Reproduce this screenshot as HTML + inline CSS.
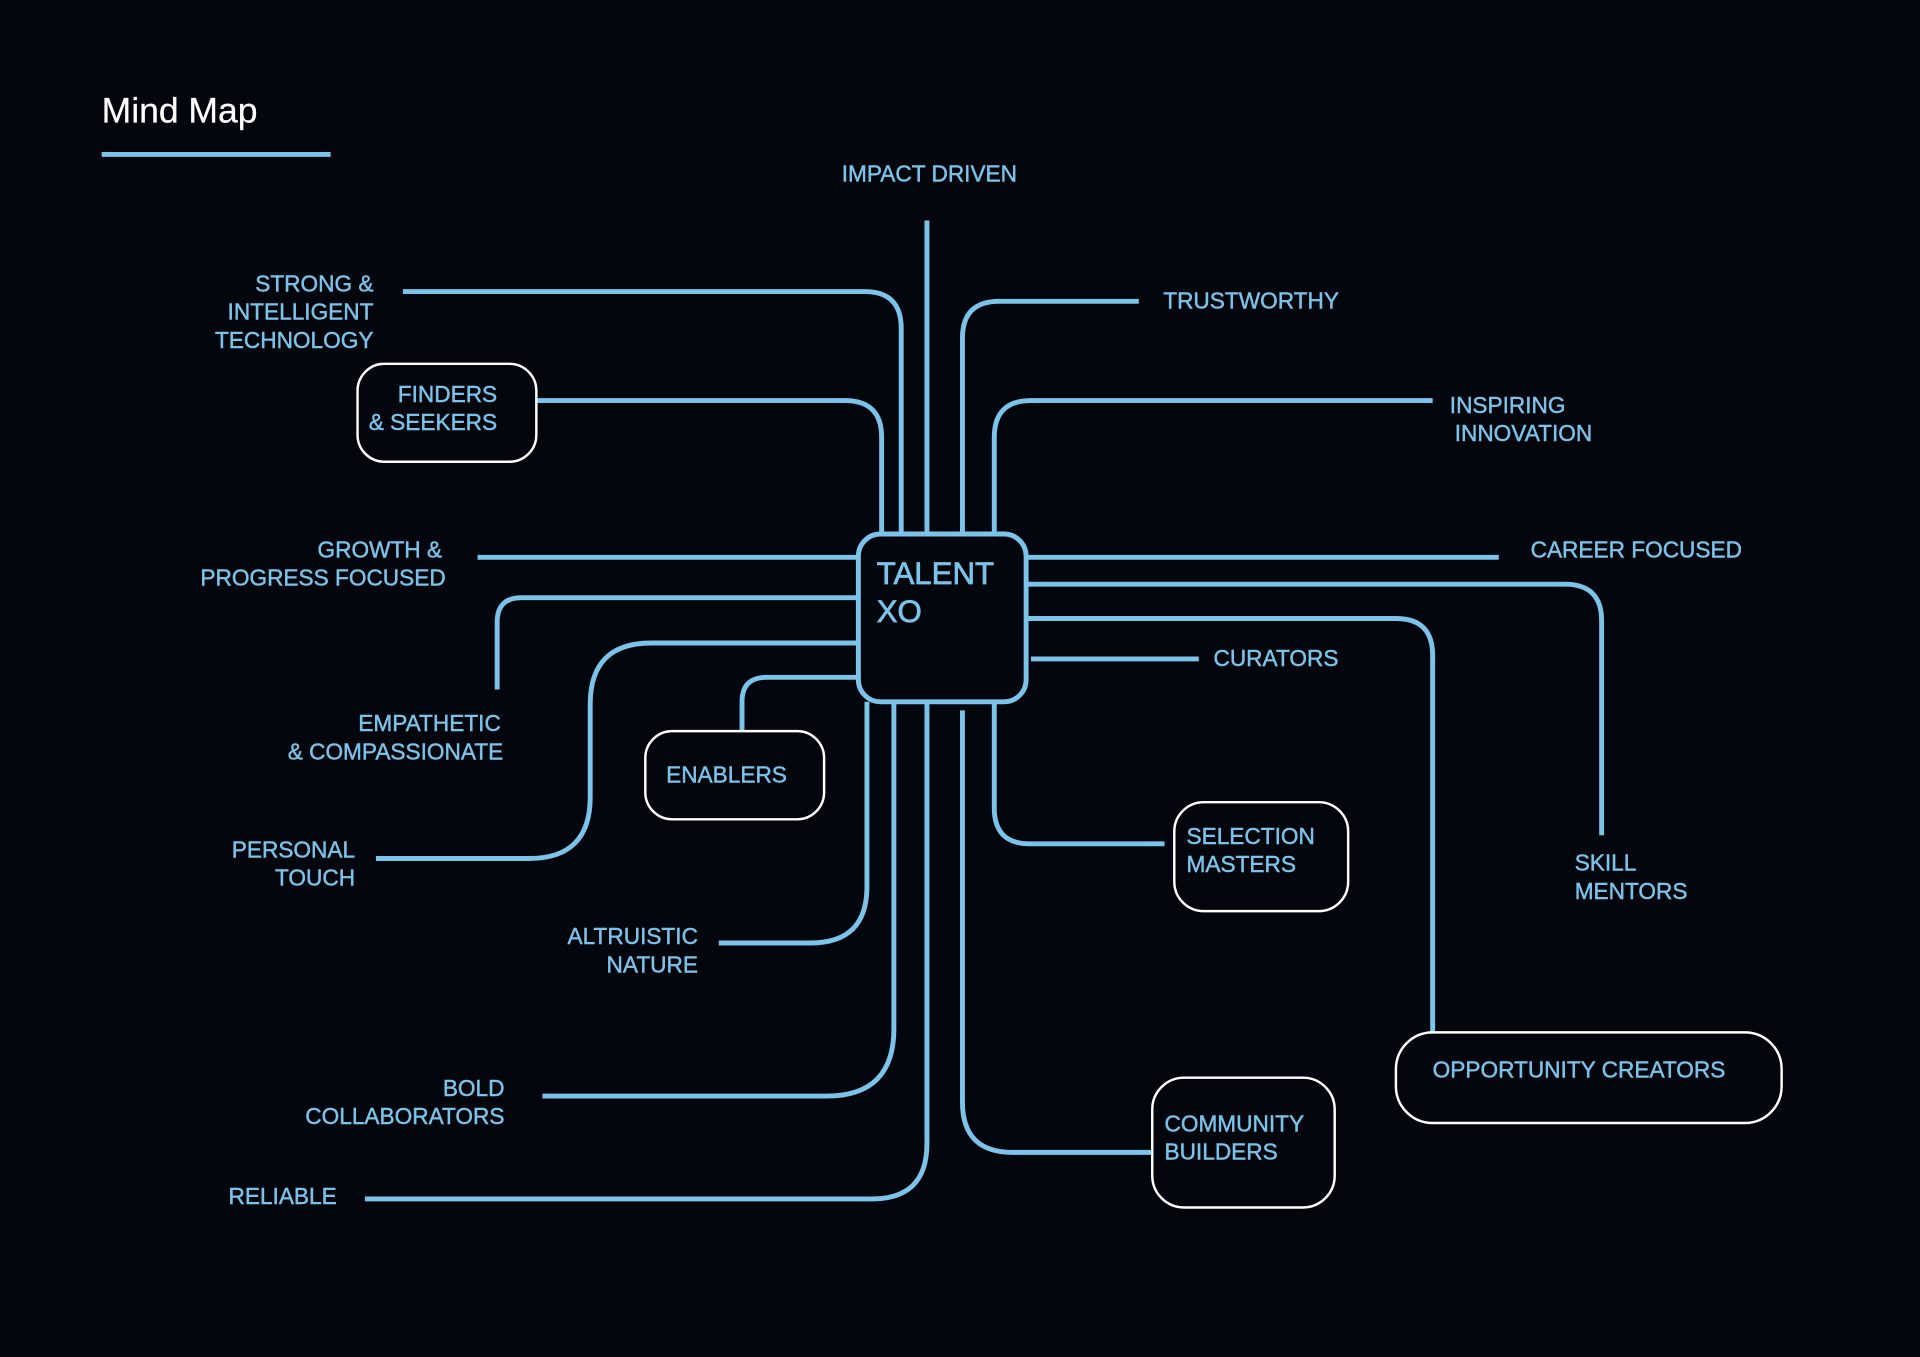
<!DOCTYPE html>
<html><head><meta charset="utf-8"><style>
html,body{margin:0;padding:0;background:#03070d;}
svg{display:block}
text{font-family:"Liberation Sans",sans-serif;fill:#7cc3ea;font-size:18.5px;stroke:#7cc3ea;stroke-width:0.35px;}
.r{text-anchor:end}
</style></head><body>
<svg width="1920" height="1357" viewBox="0 0 1568 1108" xmlns="http://www.w3.org/2000/svg">
<rect width="1568" height="1108" fill="#03070d"/>
<text x="83" y="100" style="fill:#fff;stroke:#fff;stroke-width:0.2px;font-size:29px">Mind Map</text>
<line x1="83" y1="126" x2="270" y2="126" stroke="#7cc3ea" stroke-width="4"/>
<g fill="none" stroke="#7cc3ea" stroke-width="4">
<path d="M757 180 V436"/>
<path d="M329 238 H706 Q736 238 736 268 V436"/>
<path d="M438 327 H690 Q720 327 720 357 V436"/>
<path d="M930 246 H816 Q786 246 786 276 V436"/>
<path d="M1170 327 H842 Q812 327 812 357 V436"/>
<path d="M390 455 H701"/>
<path d="M406 563 V508 Q406 488 426 488 H701"/>
<path d="M307 701 H432 Q482 701 482 651 V575 Q482 525 532 525 H701"/>
<path d="M606 597 V573 Q606 553 626 553 H701"/>
<path d="M587 770 H662 Q708 770 708 724 V573"/>
<path d="M443 895 H675 Q730 895 730 840 V573"/>
<path d="M298 979 H712 Q757 979 757 934 V573"/>
<path d="M786 580 V900 Q786 941 827 941 H941"/>
<path d="M812 573 V660 Q812 689 841 689 H951"/>
<path d="M838 455 H1224"/>
<path d="M838 477 H1278 Q1308 477 1308 507 V682"/>
<path d="M838 505 H1140 Q1170 505 1170 535 V843"/>
<path d="M842 538 H979"/>
<rect x="701" y="436" width="137" height="137" rx="18" fill="#03070d"/>
</g>
<g fill="#03070d" stroke="#fff" stroke-width="2">
<rect x="292" y="297" width="146" height="80" rx="22"/>
<rect x="527" y="597" width="146" height="72" rx="22"/>
<rect x="959" y="655" width="142" height="89" rx="24"/>
<rect x="941" y="880" width="149" height="106" rx="26"/>
<rect x="1140" y="843" width="315" height="74" rx="30"/>
</g>
<text x="716" y="477" style="font-size:25.5px;stroke-width:0.6px">TALENT</text>
<text x="716" y="508" style="font-size:25.5px;stroke-width:0.6px">XO</text>
<text x="759" y="148" text-anchor="middle">IMPACT DRIVEN</text>
<text class="r" x="305" y="238">STRONG &amp;</text>
<text class="r" x="305" y="261">INTELLIGENT</text>
<text class="r" x="305" y="284">TECHNOLOGY</text>
<text class="r" x="406" y="328">FINDERS</text>
<text class="r" x="406" y="351">&amp; SEEKERS</text>
<text x="950" y="252">TRUSTWORTHY</text>
<text x="1184" y="337">INSPIRING</text>
<text x="1188" y="360">INNOVATION</text>
<text class="r" x="361" y="455">GROWTH &amp;</text>
<text class="r" x="364" y="478">PROGRESS FOCUSED</text>
<text x="1250" y="455">CAREER FOCUSED</text>
<text x="991" y="544">CURATORS</text>
<text class="r" x="409" y="597">EMPATHETIC</text>
<text class="r" x="411" y="620">&amp; COMPASSIONATE</text>
<text x="544" y="639">ENABLERS</text>
<text class="r" x="290" y="700">PERSONAL</text>
<text class="r" x="290" y="723">TOUCH</text>
<text x="969" y="689">SELECTION</text>
<text x="969" y="712">MASTERS</text>
<text x="1286" y="711">SKILL</text>
<text x="1286" y="734">MENTORS</text>
<text class="r" x="570" y="771">ALTRUISTIC</text>
<text class="r" x="570" y="794">NATURE</text>
<text x="1170" y="880">OPPORTUNITY CREATORS</text>
<text class="r" x="412" y="895">BOLD</text>
<text class="r" x="412" y="918">COLLABORATORS</text>
<text x="951" y="924">COMMUNITY</text>
<text x="951" y="947">BUILDERS</text>
<text class="r" x="275" y="983">RELIABLE</text>
</svg>
</body></html>
